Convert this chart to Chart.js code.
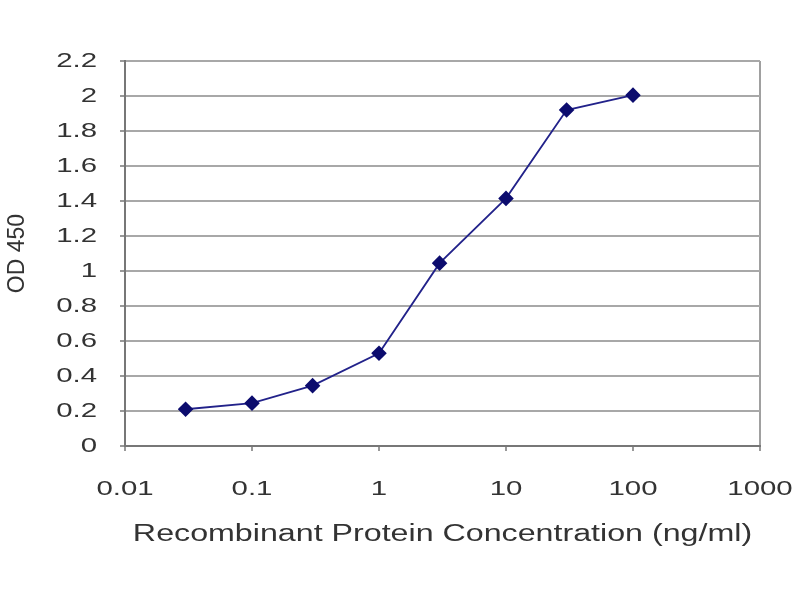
<!DOCTYPE html>
<html>
<head>
<meta charset="utf-8">
<script src="https://cdn.jsdelivr.net/npm/chart.js@4"></script>
<style>
html,body{margin:0;padding:0;background:#fff;}
#wrap{width:800px;height:600px;}
</style>
</head>
<body>
<div id="wrap"><canvas id="c" width="800" height="600"></canvas></div>
<script>
const concentrations = [0.03, 0.1, 0.3, 1, 3, 10, 30, 100];
const od450 = [0.21, 0.245, 0.345, 0.53, 1.045, 1.415, 1.92, 2.005];
const xTickValues = [0.01, 0.1, 1, 10, 100, 1000];
const xTickLabels = ['0.01', '0.1', '1', '10', '100', '1000'];
const yTickLabels = ['0','0.2','0.4','0.6','0.8','1','1.2','1.4','1.6','1.8','2','2.2'];
const xTitle = 'Recombinant Protein Concentration (ng/ml)';
const yTitle = 'OD 450';

const SX = 1.4;
const stretchText = {
  id: 'stretchText',
  beforeDraw(chart) {
    const ctx = chart.ctx;
    if (ctx._stretched) return;
    ctx._stretched = true;
    const orig = ctx.fillText.bind(ctx);
    ctx.fillText = function (t, x, y, mw) {
      const m = ctx.getTransform();
      if (Math.abs(m.b) < 1e-6 && Math.abs(m.c) < 1e-6) {
        ctx.save();
        ctx.translate(x, y);
        ctx.scale(SX, 1);
        if (mw === undefined) orig(t, 0, 0); else orig(t, 0, 0, mw / SX);
        ctx.restore();
      } else {
        if (mw === undefined) orig(t, x, y); else orig(t, x, y, mw);
      }
    };
  }
};

const points = concentrations.map((c, i) => ({x: c, y: od450[i]}));
const tickFont = {family: '"Liberation Sans", Arial, sans-serif', size: 21};
const xTitleFont = {family: '"Liberation Sans", Arial, sans-serif', size: 23};
const yTitleFont = {family: '"Liberation Sans", Arial, sans-serif', size: 23};

new Chart(document.getElementById('c'), {
  type: 'line',
  data: {
    datasets: [{
      data: points,
      borderColor: '#22228a',
      borderWidth: 1.8,
      pointStyle: 'rectRot',
      pointRadius: 6.5,
      pointBackgroundColor: '#0c0c6e',
      pointBorderColor: '#0c0c6e',
      tension: 0
    }]
  },
  options: {
    responsive: false,
    animation: false,
    layout: {padding: {top: 61, right: 40, bottom: 0, left: 0}},
    plugins: {legend: {display: false}, tooltip: {enabled: false}},
    scales: {
      x: {
        type: 'logarithmic',
        min: 0.01,
        max: 1000,
        afterBuildTicks(scale) { scale.ticks = xTickValues.map(v => ({value: v})); },
        afterFit(scale) { scale.height = 154; scale.paddingLeft = 0; scale.paddingRight = 0; },
        ticks: {
          font: tickFont,
          color: '#333',
          padding: 26,
          maxRotation: 0,
          autoSkip: false,
          callback(value) { const i = xTickValues.indexOf(value); return i >= 0 ? xTickLabels[i] : ''; }
        },
        grid: {
          drawOnChartArea: true,
          color: (c) => (c.index === xTickValues.length - 1 ? '#a0a0a0' : 'rgba(0,0,0,0)'),
          lineWidth: 2,
          tickColor: '#999',
          tickLength: 5
        },
        border: {color: '#777', width: 2},
        title: {display: true, text: xTitle, font: xTitleFont, color: '#333', padding: {top: 0, bottom: 52}}
      },
      y: {
        min: 0,
        max: 2.2,
        afterBuildTicks(scale) { scale.ticks = yTickLabels.map(v => ({value: parseFloat(v)})); },
        afterFit(scale) { scale.width = 125; scale.paddingTop = 0; scale.paddingBottom = 0; },
        ticks: {
          font: tickFont,
          color: '#333',
          padding: 23,
          callback(value) { const i = yTickLabels.findIndex(s => Math.abs(parseFloat(s) - value) < 1e-9); return i >= 0 ? yTickLabels[i] : ''; }
        },
        grid: {color: '#a8a8a8', lineWidth: 2, tickColor: '#999', tickLength: 5},
        border: {color: '#777', width: 2},
        title: {display: true, text: yTitle, font: yTitleFont, color: '#333', padding: {top: 4, bottom: 0}}
      }
    }
  },
  plugins: [stretchText]
});
</script>
</body>
</html>
